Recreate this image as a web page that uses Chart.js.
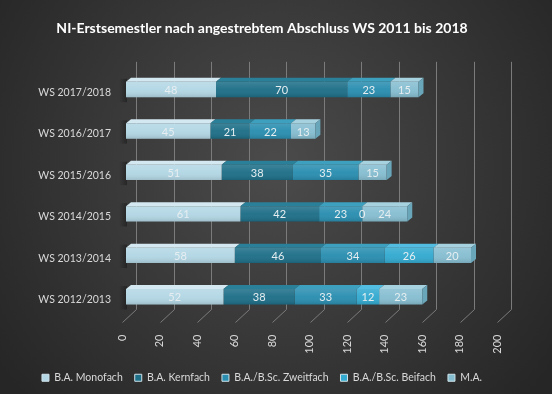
<!DOCTYPE html>
<html>
<head>
<meta charset="utf-8">
<script src="https://cdn.jsdelivr.net/npm/chart.js@4"></script>
<style>
html,body{margin:0;padding:0;background:#2c2c2c;}
#wrap{width:552px;height:394px;}
</style>
</head>
<body>
<div id="wrap"><canvas id="c" width="552" height="394"></canvas></div>
<script>
const categories = ['WS 2012/2013','WS 2013/2014','WS 2014/2015','WS 2015/2016','WS 2016/2017','WS 2017/2018'];
const seriesNames = ['B.A. Monofach','B.A. Kernfach','B.A./B.Sc. Zweitfach','B.A./B.Sc. Beifach','M.A.'];
const monofach   = [52, 58, 61, 51, 45, 48];
const kernfach   = [38, 46, 42, 38, 21, 70];
const zweitfach  = [33, 34, 23, 35, 22, 23];
const beifach    = [12, 26, 0, null, null, null];
const ma         = [23, 20, 24, 15, 13, 15];
const xTicks     = [0, 20, 40, 60, 80, 100, 120, 140, 160, 180, 200];
const titleText  = 'NI-Erstsemestler nach angestrebtem Abschluss WS 2011 bis 2018';

const colors    = ['#b3d7e5', '#1e6f88', '#2a8eb0', '#33aad0', '#86bed1'];
const topColors = ['#d3e8f0', '#2b8099', '#3da0bf', '#52bde0', '#a6d2e0'];
const sideColors= ['#8fb8c8', '#175a6f', '#217592', '#288fb0', '#6aa6ba'];

const DX = 5, DY = 4;

const bgPlugin = {
  id: 'bg',
  beforeDraw(chart) {
    const ctx = chart.ctx, w = chart.width, h = chart.height;
    ctx.save();
    const g = ctx.createRadialGradient(w*0.5, h*0.42, 10, w*0.5, h*0.42, w*0.62);
    g.addColorStop(0, '#4a4a4a');
    g.addColorStop(1, '#262626');
    ctx.fillStyle = g;
    ctx.fillRect(0, 0, w, h);
    ctx.restore();
  }
};

const gridPlugin = {
  id: 'grid3d',
  beforeDatasetsDraw(chart) {
    const ctx = chart.ctx, xs = chart.scales.x, ca = chart.chartArea;
    ctx.save();
    ctx.strokeStyle = '#7b7b7b';
    ctx.lineWidth = 1;
    xTicks.forEach(v => {
      const px = Math.round(xs.getPixelForValue(v)) + 0.5;
      ctx.beginPath();
      ctx.moveTo(px + 10, ca.top - 7);
      ctx.lineTo(px + 10, ca.bottom - 8);
      ctx.lineTo(px - 4, ca.bottom + 5);
      ctx.stroke();
    });
    // soft shadow at the left of the bars
    chart.getDatasetMeta(0).data.forEach(el => {
      const g = ctx.createLinearGradient(el.base - 7, 0, el.base + 1, 0);
      g.addColorStop(0, 'rgba(0,0,0,0)');
      g.addColorStop(1, 'rgba(0,0,0,0.35)');
      ctx.fillStyle = g;
      ctx.fillRect(el.base - 7, el.y - el.height/2 - 3, 8, el.height + 8);
    });
    ctx.restore();
  }
};

const bar3dPlugin = {
  id: 'bar3d',
  afterDatasetsDraw(chart) {
    const ctx = chart.ctx;
    ctx.save();
    const n = chart.data.labels.length;
    for (let i = 0; i < n; i++) {
      let last = null, lastDs = -1;
      chart.data.datasets.forEach((ds, d) => {
        const el = chart.getDatasetMeta(d).data[i];
        const v = ds.data[i];
        if (v === null || v === undefined) return;
        const x0 = Math.min(el.base, el.x), x1 = Math.max(el.base, el.x);
        const top = el.y - el.height/2, bot = el.y + el.height/2;
        if (x1 > x0) {
          const g = ctx.createLinearGradient(0, top, 0, bot);
          g.addColorStop(0, 'rgba(255,255,255,0.14)');
          g.addColorStop(0.5, 'rgba(255,255,255,0.03)');
          g.addColorStop(1, 'rgba(0,0,0,0.12)');
          ctx.fillStyle = g;
          ctx.fillRect(x0, top, x1 - x0, bot - top);
        }
        ctx.fillStyle = topColors[d];
        ctx.beginPath();
        ctx.moveTo(x0, top);
        ctx.lineTo(x0 + DX, top - DY);
        ctx.lineTo(x1 + DX, top - DY);
        ctx.lineTo(x1, top);
        ctx.closePath();
        ctx.fill();
        if (x1 > x0 || last === null) { last = {x1, top, bot}; lastDs = d; }
      });
      if (last) {
        ctx.fillStyle = sideColors[lastDs];
        ctx.beginPath();
        ctx.moveTo(last.x1, last.top);
        ctx.lineTo(last.x1 + DX, last.top - DY);
        ctx.lineTo(last.x1 + DX, last.bot - DY);
        ctx.lineTo(last.x1, last.bot);
        ctx.closePath();
        ctx.fill();
      }
    }
    ctx.font = '11px Lato';
    ctx.fillStyle = '#e6eef1';
    ctx.textAlign = 'center';
    ctx.textBaseline = 'middle';
    chart.data.datasets.forEach((ds, d) => {
      chart.getDatasetMeta(d).data.forEach((el, i) => {
        const v = ds.data[i];
        if (v === null || v === undefined) return;
        const cx = (el.base + el.x) / 2;
        ctx.fillText(String(v), cx, el.y + 1);
      });
    });
    ctx.restore();
  }
};

const datasetsArr = [monofach, kernfach, zweitfach, beifach, ma].map((arr, i) => ({
  label: seriesNames[i],
  data: arr,
  backgroundColor: colors[i],
  borderWidth: 0,
  barPercentage: 0.37,
  categoryPercentage: 1
}));

new Chart(document.getElementById('c'), {
  type: 'bar',
  data: { labels: categories, datasets: datasetsArr },
  plugins: [bgPlugin, gridPlugin, bar3dPlugin],
  options: {
    indexAxis: 'y',
    responsive: false,
    animation: false,
    layout: { padding: { left: 0, right: 28, top: 0, bottom: 1 } },
    scales: {
      x: {
        type: 'linear', stacked: true, min: 0, max: 200,
        afterBuildTicks(scale) { scale.ticks = xTicks.map(v => ({ value: v })); },
        afterFit(scale) { scale.height = 43; },
        grid: { display: false },
        border: { display: false },
        ticks: { color: '#d9d9d9', font: { family: 'Lato', size: 11 }, minRotation: 90, maxRotation: 90, padding: 9, labelOffset: -4 }
      },
      y: {
        type: 'category', stacked: true, reverse: true,
        afterFit(scale) { scale.width = 126; },
        grid: { display: false },
        border: { display: false },
        ticks: { color: '#d9d9d9', font: { family: 'Lato', size: 10.5 }, padding: 7, labelOffset: 3 }
      },
      spacer: {
        type: 'linear', axis: 'y', position: 'right', display: true,
        afterFit(scale) { scale.width = 23; },
        grid: { display: false },
        border: { display: false },
        ticks: { display: false }
      }
    },
    plugins: {
      title: {
        display: true, text: titleText, color: '#ffffff',
        font: { family: 'Lato', size: 14, weight: 'bold' },
        padding: { top: 20, bottom: 32 }
      },
      legend: {
        position: 'bottom',
        labels: {
          color: '#d9d9d9', font: { family: 'Lato', size: 10.5 },
          boxWidth: 7, boxHeight: 7, padding: 12,
          generateLabels(chart) {
            return chart.data.datasets.map((ds, i) => ({
              text: ds.label, fillStyle: colors[i], strokeStyle: '#cfe3ea', lineWidth: 1,
              fontColor: '#d9d9d9', hidden: false, datasetIndex: i
            }));
          }
        }
      },
      tooltip: { enabled: false }
    }
  }
});
</script>
</body>
</html>
